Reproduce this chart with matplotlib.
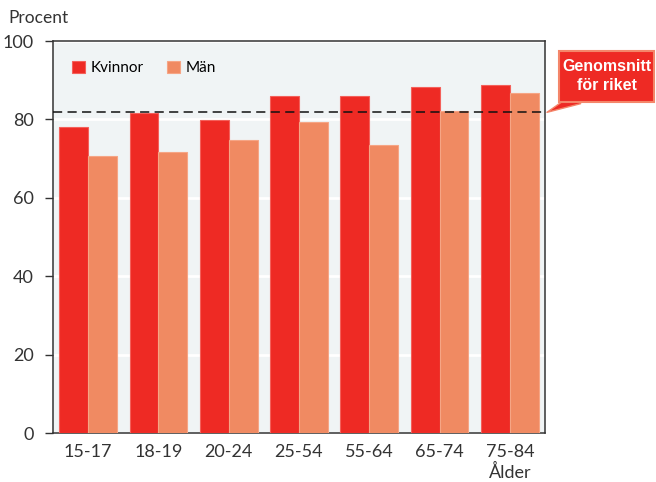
import matplotlib.pyplot as plt
from matplotlib.patches import Rectangle
import numpy as np

# andel i procent per åldersgrupp
age_groups = ["15-17", "18-19", "20-24", "25-54", "55-64", "65-74", "75-84"]
kvinnor = [78.0, 81.7, 79.9, 85.9, 85.9, 88.3, 88.7]
man = [70.6, 71.6, 74.8, 79.4, 73.5, 82.1, 86.8]
riket = 81.8

red = "#ee2a24"
salmon = "#f08a62"
plt.rcParams["font.family"] = ["Lato", "DejaVu Sans"]

W, H = 656, 482
fig = plt.figure(figsize=(W/100, H/100), dpi=100)
ax = fig.add_axes([53/W, 49/H, 492/W, 392/H])
ax.set_facecolor("#f0f4f5")

x = np.arange(len(age_groups))
w = 0.41
ax.bar(x - w/2, kvinnor, w, color=red, edgecolor="#f4605a", linewidth=0.8, label="Kvinnor", zorder=3)
ax.bar(x + w/2, man, w, color=salmon, edgecolor="#f6a585", linewidth=0.8, label="Män", zorder=3)

ax.axhline(riket, color="#111111", linestyle=(0, (6, 3.5)), linewidth=1.1, zorder=4)

ax.set_xlim(-0.5, len(age_groups) - 0.5)
ax.set_ylim(0, 100)
ax.set_yticks(range(0, 101, 20))
ax.yaxis.grid(True, color="white", linewidth=2, zorder=1)
ax.set_axisbelow(True)

ax.set_xticks(x)
labels = list(age_groups)
labels[-1] = labels[-1] + "\nÅlder"
ax.set_xticklabels(labels)
for lab in ax.get_xticklabels():
    lab.set_linespacing(1.3)

ax.tick_params(axis="y", length=6, width=1, color="#333333", labelsize=13, labelcolor="#333333", pad=8)
ax.tick_params(axis="x", length=0, labelsize=13, labelcolor="#333333", pad=8)
for s in ax.spines.values():
    s.set_color("#333333")
    s.set_linewidth(1.1)

ax.legend(loc="upper left", ncol=2, frameon=False, fontsize=11,
          handlelength=0.85, handleheight=0.85, handletextpad=0.4,
          columnspacing=1.5, bbox_to_anchor=(0.01, 0.985))

fig.text(8/W, 1 - 18/H, "Procent", fontsize=12.5, color="#333333", va="center", ha="left")

# pratbubbla för rikssnittet
ax.annotate("", xy=(1.004, riket), xycoords=("axes fraction", "data"),
            xytext=(578/W, 1 - 98/H), textcoords="figure fraction",
            arrowprops=dict(arrowstyle="wedge,tail_width=0.9,shrink_factor=0.5", fc=red, ec="#f4866a",
                            lw=1.0, shrinkA=0, shrinkB=0),
            annotation_clip=False)
fig.add_artist(Rectangle((559/W, 1 - 102/H), 95/W, 51/H, transform=fig.transFigure,
                         fc=red, ec="#f4866a", lw=1.5))
fig.text(607/W, 1 - 76/H, "Genomsnitt\nför riket", ha="center", va="center", color="white",
         fontsize=11.5, fontweight="bold", family="Liberation Sans", linespacing=1.3)

fig.savefig("out.png", dpi=100)
